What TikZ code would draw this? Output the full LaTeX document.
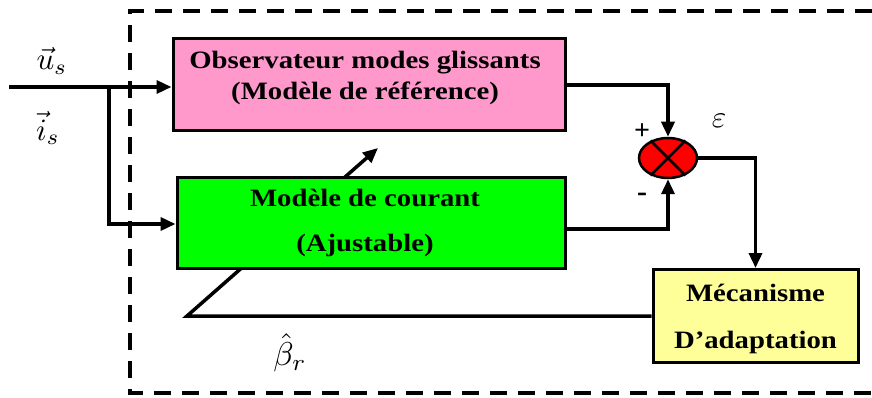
\documentclass[tikz,border=0pt]{standalone}
\usepackage{fontspec}
\setmainfont{Liberation Serif}
\newfontfamily\boxfont[FakeStretch=1.15]{Liberation Serif}
\usetikzlibrary{arrows.meta,shapes.geometric}
\definecolor{pinkbox}{HTML}{FF99CC}
\definecolor{greenbox}{HTML}{00FF00}
\definecolor{yellowbox}{HTML}{FFFF99}
\definecolor{sumred}{HTML}{FF0000}
\newcommand{\biglbl}[1]{\scalebox{3.1}{$#1$}}
\begin{document}
\begin{tikzpicture}[x=1pt,y=-1pt,
  blk/.style={draw, line width=3pt, inner sep=0pt, rectangle},
  txt/.style={font=\boxfont\bfseries\fontsize{25}{30}\selectfont, inner sep=0pt, align=center},
  lbl/.style={inner sep=0pt},
  wire/.style={line width=3.5pt},
  arr/.style={wire, -{Triangle[length=15pt,width=13pt]}},
  frame/.style={line width=3.5pt, dash pattern=on 17pt off 11pt}]
\useasboundingbox (0,0) rectangle (872,398);
% dashed frame
\draw[frame] (872,11) -- (130,11) -- (130,393) -- (872,393);
% coordinates
\coordinate (in) at (9,87);
\coordinate (br) at (109,87);
\coordinate (fb) at (187,316);
\coordinate (tip) at (378,148);
% adaptation block
\node[blk, fill=yellowbox, minimum width=205, minimum height=93] (mec) at (755.5,316) {};
\node[txt] (mect1) at (755.5,293) {Mécanisme};
\node[txt] (mect2) at (755.5,342) {D’adaptation};
% feedback (behind current model)
\draw[arr] (mec.west) -- (fb) -- (tip);
% reference model
\node[blk, fill=pinkbox, minimum width=392, minimum height=92] (obs) at (369,85) {};
\node[txt] (obst1) at (365,63) {Observateur modes glissants};
\node[txt] (obst2) at (365,93) {(Modèle de référence)};
% current model
\node[blk, fill=greenbox, minimum width=388, minimum height=90] (cur) at (371,223) {};
\node[txt] (curt1) at (365,198) {Modèle de courant};
\node[txt] (curt2) at (365,245) {(Ajustable)};
% summing junction
\node[ellipse, draw, line width=2.5pt, fill=sumred, minimum width=58, minimum height=40, inner sep=0pt] (sum) at (668,158) {};
\draw[line width=2.5pt] (sum.45) -- (sum.225) (sum.135) -- (sum.-45);
% connectors
\draw[arr] (in) -- (in -| obs.west);
\draw[arr] (br) |- ([yshift=-1pt]cur.west);
\draw[arr] (obs.east) -| (sum.north);
\draw[arr] ([yshift=-6pt]cur.east) -| (sum.south);
\draw[arr] (sum.east) -| (mec.north);
% labels
\node[lbl] (us) at (52,61) {\biglbl{\vec{u}_{s}}};
\node[lbl] (is) at (48,128) {\biglbl{\vec{i}_{s}}};
\node[font=\bfseries\fontsize{28}{32}\selectfont, inner sep=0pt] (plus) at (642,132) {+};
\node[font=\bfseries\fontsize{30}{32}\selectfont, inner sep=0pt] (minus) at (642,197) {-};
\node[lbl] (eps) at (719,121) {\biglbl{\varepsilon}};
\node[lbl] (beta) at (290,353) {\scalebox{3.3}{$\hat{\beta}_{r}$}};
\end{tikzpicture}
\end{document}
